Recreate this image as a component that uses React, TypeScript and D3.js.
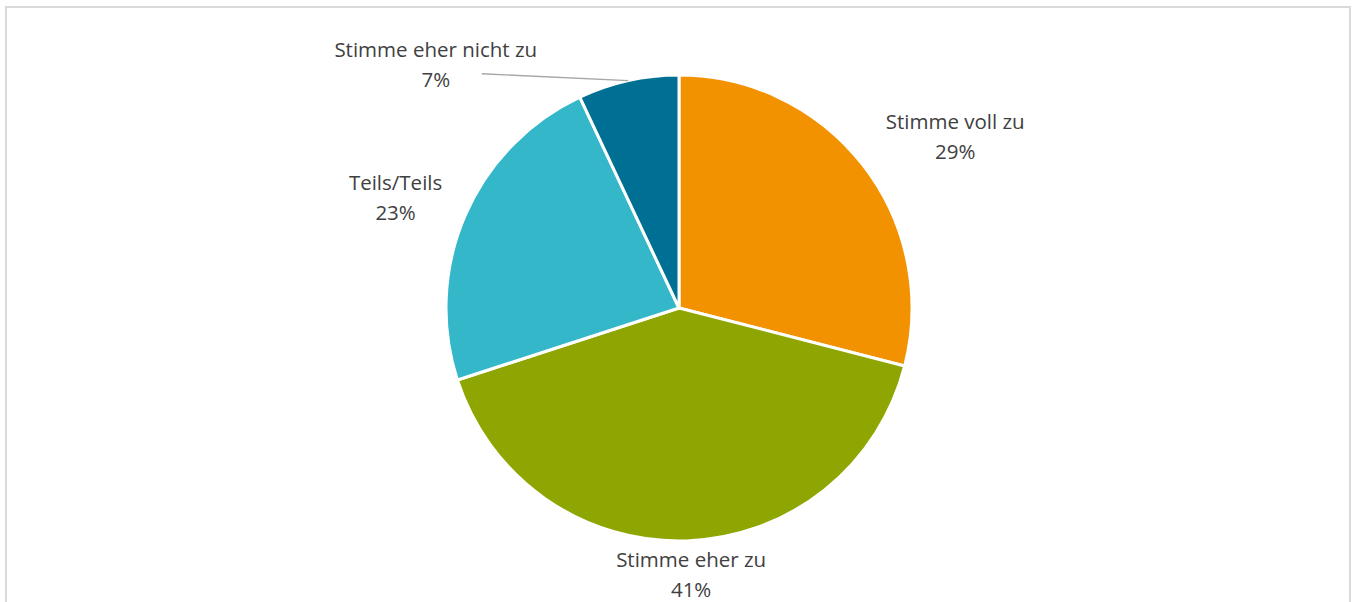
import React from 'react';
import * as d3 from 'd3';

const categories = ['Stimme voll zu', 'Stimme eher zu', 'Teils/Teils', 'Stimme eher nicht zu'];
const values = [29, 41, 23, 7];
const colors = ['#F39200', '#8FA602', '#35B7CA', '#006F94'];

// label placement: angle (deg, clockwise from top) and distance from centre
const labelAngle = [58.2, 177.4, 291.2, 315];
const labelDist = [325, 267, 304, 344];

const W = 1357;
const H = 602;

export default function App() {
  const cx = 679;
  const cy = 308;
  const r = 233;

  const pie = d3.pie<number>().sort(null).value((d) => d);
  const arcs = pie(values);
  const arc = d3.arc<d3.PieArcDatum<number>>().innerRadius(0).outerRadius(r);

  const total = d3.sum(values);
  const fmt = (v: number) => Math.round((v / total) * 100) + '%';

  const polar = (deg: number, dist: number) => {
    const a = (deg * Math.PI) / 180;
    return [dist * Math.sin(a), -dist * Math.cos(a)];
  };

  return (
    <svg width={W} height={H} style={{ position: 'absolute', left: 0, top: 0 }}>
      <rect x={6} y={7} width={1344} height={620} fill="#fff" stroke="#d9d9d9" strokeWidth={2} />
      <g transform={`translate(${cx},${cy})`}>
        {arcs.map((a, i) => (
          <path key={i} d={arc(a) || ''} fill={colors[i]} stroke="#fff" strokeWidth={3} strokeLinejoin="round" />
        ))}
        {arcs.map((a, i) => {
          const [lx, ly] = polar(labelAngle[i], labelDist[i]);
          const mid = ((a.startAngle + a.endAngle) / 2) * 180 / Math.PI;
          const [ex, ey] = polar(mid, r);
          const leader = i === 3;
          return (
            <g key={'l' + i}>
              {leader && (
                <line x1={lx + 46} y1={ly + 9} x2={ex} y2={ey} stroke="#a6a6a6" strokeWidth={1.3} />
              )}
              <text
                x={lx}
                y={ly}
                textAnchor="middle"
                fontFamily="'Open Sans', sans-serif"
                fontSize={20.5}
                fill="#404040"
              >
                <tspan x={lx} dy={-8}>{categories[i]}</tspan>
                <tspan x={lx} dy={30}>{fmt(values[i])}</tspan>
              </text>
            </g>
          );
        })}
      </g>
    </svg>
  );
}
